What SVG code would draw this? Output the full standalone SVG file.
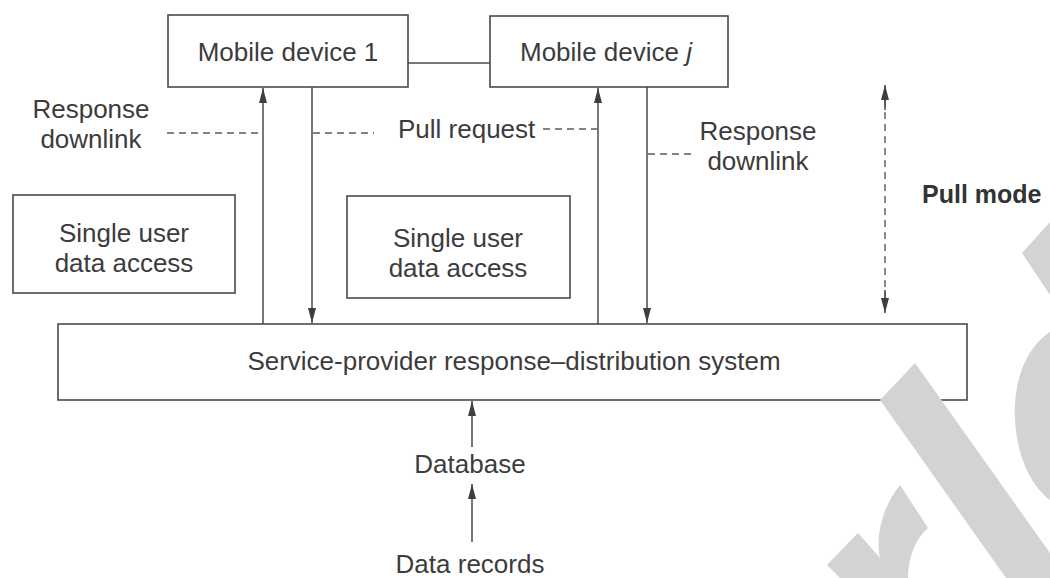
<svg xmlns="http://www.w3.org/2000/svg" width="1050" height="578" viewBox="0 0 1050 578">
<defs>
<style>
.box{fill:#ffffff;stroke:#4a4a4a;stroke-width:1.6}
.ln{fill:none;stroke:#4a4a4a;stroke-width:1.5}
.dash{fill:none;stroke:#5a5a5a;stroke-width:1.4;stroke-dasharray:7 5}
.t{font-family:"Liberation Sans",Arial,sans-serif;font-size:26px;fill:#3c3c3c}
.c{text-anchor:middle}
.b{font-weight:bold;font-size:25px;fill:#333333}
.wm{fill:#d3d3d3}
</style>
<marker id="ah" markerUnits="userSpaceOnUse" markerWidth="16" markerHeight="10" refX="15" refY="5" orient="auto">
<path d="M0,1 L15,5 L0,9 Z" fill="#3f3f3f"/>
</marker>
</defs>
<rect width="1050" height="578" fill="#ffffff"/>

<g id="connectors">
<line class="ln" x1="408" y1="63" x2="490" y2="63"/>
<line class="ln" x1="263" y1="324" x2="263" y2="88" marker-end="url(#ah)"/>
<line class="ln" x1="312" y1="87" x2="312" y2="323" marker-end="url(#ah)"/>
<line class="ln" x1="598" y1="324" x2="598" y2="88" marker-end="url(#ah)"/>
<line class="ln" x1="647" y1="87" x2="647" y2="323" marker-end="url(#ah)"/>
<line class="ln" x1="472" y1="447" x2="472" y2="401" marker-end="url(#ah)"/>
<line class="ln" x1="472" y1="542" x2="472" y2="484" marker-end="url(#ah)"/>
<line class="dash" x1="885" y1="100" x2="885" y2="298" stroke-dasharray="5 5"/>
<line class="ln" x1="885" y1="110" x2="885" y2="85" marker-end="url(#ah)"/>
<line class="ln" x1="885" y1="290" x2="885" y2="313" marker-end="url(#ah)"/>
<line class="dash" x1="167" y1="133" x2="262" y2="133"/>
<line class="dash" x1="313" y1="133" x2="374" y2="133"/>
<line class="dash" x1="543" y1="129" x2="597" y2="129"/>
<line class="dash" x1="648" y1="154" x2="694" y2="154"/>
</g>

<g id="mobile1">
<rect class="box" x="168" y="15" width="240" height="72"/>
<text class="t c" x="288" y="61">Mobile device 1</text>
</g>
<g id="mobilej">
<rect class="box" x="490" y="16" width="238" height="71"/>
<text class="t c" x="606" y="61">Mobile device <tspan font-style="italic">j</tspan></text>
</g>
<g id="single1">
<rect class="box" x="13" y="195" width="222" height="98"/>
<text class="t c" x="124" y="242">Single user</text>
<text class="t c" x="124" y="272">data access</text>
</g>
<g id="single2">
<rect class="box" x="347" y="196" width="223" height="102"/>
<text class="t c" x="458" y="247">Single user</text>
<text class="t c" x="458" y="277">data access</text>
</g>
<g id="service">
<rect class="box" x="58" y="324" width="909" height="76"/>
<text class="t c" x="514" y="370">Service-provider response–distribution system</text>
</g>
<g id="labels">
<text class="t c" x="91" y="118">Response</text>
<text class="t c" x="91" y="148">downlink</text>
<text class="t" x="398" y="138">Pull request</text>
<text class="t c" x="758" y="140">Response</text>
<text class="t c" x="758" y="170">downlink</text>
<text class="t b" x="922" y="203">Pull mode</text>
<text class="t c" x="470" y="473">Database</text>
<text class="t c" x="470" y="573">Data records</text>
</g>

<g id="watermark">
<polygon class="wm" points="1050,222 1022,253 1050,295"/>
<path class="wm" d="M1050,332 C1022,350 1013,390 1015,420 C1017,455 1030,485 1050,500 Z"/>
<polygon class="wm" points="915,363 880,400 1006,578 1050,578 1050,553"/>
<path class="wm" d="M827,565 L858,533 L880,558 C876,540 880,510 900,485 L928,528 C914,540 908,560 908,578 L840,578 Z"/>
</g>
</svg>
